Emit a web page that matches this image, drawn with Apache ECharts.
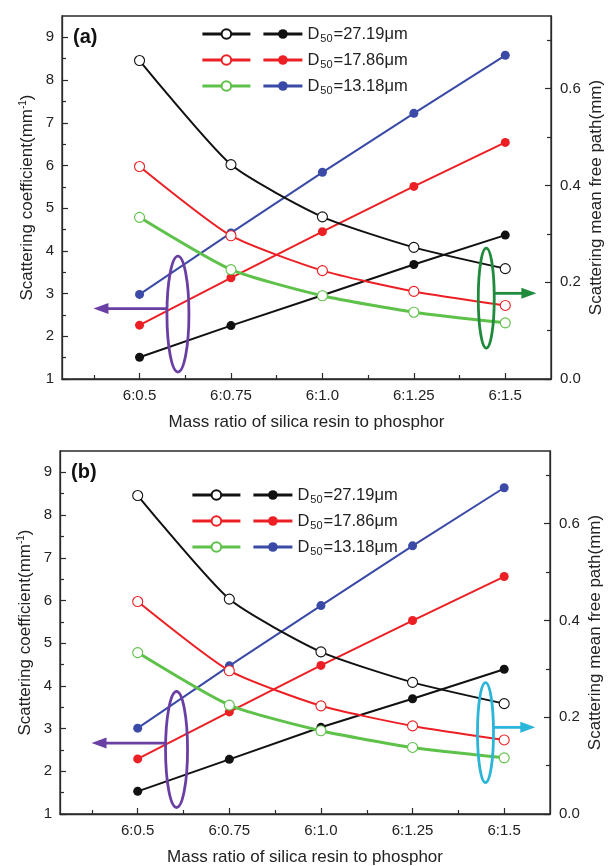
<!DOCTYPE html>
<html>
<head>
<meta charset="utf-8">
<script src="https://cdn.jsdelivr.net/npm/echarts@6/dist/echarts.min.js"></script>
<style>
html,body{margin:0;padding:0;background:#fff;}
#chart{width:608px;height:866px;}
</style>
</head>
<body>
<div id="chart"></div>
<script>
// ---------- data ----------
const ratios = [0.5, 0.75, 1.0, 1.25, 1.5];
const ratioLabels = ['6:0.5', '6:0.75', '6:1.0', '6:1.25', '6:1.5'];
const sizes = ['27.19', '17.86', '13.18'];
const leftTicks = [1, 2, 3, 4, 5, 6, 7, 8, 9];
const leftMinor = [1.5, 2.5, 3.5, 4.5, 5.5, 6.5, 7.5, 8.5];
const rightTicks = [0, 0.2, 0.4, 0.6];
const rightMinor = [0.1, 0.3, 0.5, 0.7];
const xMinor = [0.375, 0.625, 0.875, 1.125, 1.375];

// panel (a): scattering coefficient (mm^-1), left axis
const a_sc_27 = [1.51, 2.25, 2.96, 3.68, 4.37];
const a_sc_17 = [2.26, 3.37, 4.45, 5.51, 6.54];
const a_sc_13 = [2.98, 4.42, 5.84, 7.22, 8.58];
// panel (a): scattering mean free path (mm), right axis
const a_mfp_27 = [0.658, 0.443, 0.335, 0.272, 0.228];
const a_mfp_17 = [0.439, 0.296, 0.224, 0.181, 0.152];
const a_mfp_13 = [0.334, 0.226, 0.172, 0.138, 0.116];

// panel (b)
const b_sc_27 = [1.53, 2.28, 3.03, 3.70, 4.39];
const b_sc_17 = [2.29, 3.39, 4.48, 5.53, 6.56];
const b_sc_13 = [3.01, 4.47, 5.88, 7.28, 8.64];
const b_mfp_27 = [0.658, 0.444, 0.335, 0.272, 0.228];
const b_mfp_17 = [0.439, 0.296, 0.2235, 0.182, 0.153];
const b_mfp_13 = [0.3335, 0.225, 0.172, 0.1375, 0.116];

const panelLetters = ['(a)', '(b)'];
const xTitle = 'Mass ratio of silica resin to phosphor';

// ---------- style ----------
const FONT = '"Liberation Sans", Arial, sans-serif';
const C_BLACK = '#111111', C_RED = '#ec2024', C_GREEN = '#5ec149', C_BLUE = '#3a4aa6';
const AX = '#2a2a2a';

const panels = [
  { sc: [a_sc_27, a_sc_17, a_sc_13], mfp: [a_mfp_27, a_mfp_17, a_mfp_13],
    grid: { left: 62, top: 16, right: 57, height: 363 },
    leg1: { left: 201, top: 21 }, leg2: { left: 262, top: 21 },
    letter: { left: 68, top: 22 }, rightColor: '#1f8a3b' },
  { sc: [b_sc_27, b_sc_17, b_sc_13], mfp: [b_mfp_27, b_mfp_17, b_mfp_13],
    grid: { left: 60, top: 451, right: 58, height: 363 },
    leg1: { left: 191, top: 482 }, leg2: { left: 252, top: 482 },
    letter: { left: 66, top: 457 }, rightColor: '#2bb5d9' }
];

const scColors = [C_BLACK, C_RED, C_BLUE];
const mfpColors = [C_BLACK, C_RED, C_GREEN];

const grids = [], xAxes = [], yAxes = [], series = [], legends = [], titles = [];

panels.forEach((p, i) => {
  grids.push(Object.assign({ show: true, borderColor: AX, borderWidth: 1.3, backgroundColor: 'transparent',
    containLabel: false, outerBoundsMode: 'none' }, p.grid));
  titles.push({ text: panelLetters[i], left: p.letter.left, top: p.letter.top,
    textStyle: { fontFamily: FONT, fontSize: 20, fontWeight: 'bold', color: '#111' } });

  // x major
  xAxes.push({
    gridIndex: i, type: 'value', min: 0.288, max: 1.625,
    axisLine: { show: true, lineStyle: { color: AX, width: 1.3 } },
    axisTick: { show: true, inside: true, length: 6, customValues: ratios, lineStyle: { color: AX, width: 1.2 } },
    axisLabel: { customValues: ratios, fontFamily: FONT, fontSize: 15, color: '#222', margin: 9,
      formatter: v => { const k = ratios.findIndex(r => Math.abs(r - v) < 1e-6); return k >= 0 ? ratioLabels[k] : ''; } },
    splitLine: { show: false },
    name: xTitle, nameLocation: 'middle', nameGap: 35, nameMoveOverlap: false,
    nameTextStyle: { fontFamily: FONT, fontSize: 17, color: '#222' }
  });
  // x minor
  xAxes.push({
    gridIndex: i, type: 'value', min: 0.288, max: 1.625, position: 'bottom',
    axisLine: { show: false },
    axisTick: { show: true, inside: true, length: 4, customValues: xMinor, lineStyle: { color: AX, width: 1.2 } },
    axisLabel: { show: false }, splitLine: { show: false }
  });
  // y left major
  yAxes.push({
    gridIndex: i, type: 'value', position: 'left', min: 1, max: 9.5,
    axisLine: { show: true, lineStyle: { color: AX, width: 1.3 } },
    axisTick: { show: true, inside: true, length: 6, customValues: leftTicks, lineStyle: { color: AX, width: 1.2 } },
    axisLabel: { customValues: leftTicks, fontFamily: FONT, fontSize: 15, color: '#222', margin: 8 },
    splitLine: { show: false },
    name: 'Scattering coefficient(mm{sup|-1})', nameLocation: 'middle', nameGap: 26, nameMoveOverlap: false,
    nameTextStyle: { fontFamily: FONT, fontSize: 17, color: '#222',
      rich: { sup: { fontFamily: FONT, fontSize: 10, color: '#222', padding: [0, 0, 8, 0] } } }
  });
  // y left minor
  yAxes.push({
    gridIndex: i, type: 'value', position: 'left', min: 1, max: 9.5,
    axisLine: { show: false },
    axisTick: { show: true, inside: true, length: 4, customValues: leftMinor, lineStyle: { color: AX, width: 1.2 } },
    axisLabel: { show: false }, splitLine: { show: false }
  });
  // y right major
  yAxes.push({
    gridIndex: i, type: 'value', position: 'right', min: 0, max: 0.75,
    axisLine: { show: true, lineStyle: { color: AX, width: 1.3 } },
    axisTick: { show: true, inside: true, length: 6, customValues: rightTicks, lineStyle: { color: AX, width: 1.2 } },
    axisLabel: { customValues: rightTicks, fontFamily: FONT, fontSize: 15, color: '#222', margin: 9,
      formatter: v => v.toFixed(1) },
    splitLine: { show: false },
    name: 'Scattering mean free path(mm)', nameLocation: 'middle', nameGap: 37, nameRotate: 90, nameMoveOverlap: false,
    nameTextStyle: { fontFamily: FONT, fontSize: 17, color: '#222' }
  });
  // y right minor
  yAxes.push({
    gridIndex: i, type: 'value', position: 'right', min: 0, max: 0.75,
    axisLine: { show: false },
    axisTick: { show: true, inside: true, length: 4, customValues: rightMinor, lineStyle: { color: AX, width: 1.2 } },
    axisLabel: { show: false }, splitLine: { show: false }
  });

  const names1 = [], names2 = [];
  // open circles: mean free path (right axis)
  p.mfp.forEach((arr, k) => {
    const nm = panelLetters[i] + ' mfp ' + sizes[k];
    names1.push(nm);
    series.push({
      type: 'line', name: nm, xAxisIndex: 2 * i, yAxisIndex: 4 * i + 2,
      data: ratios.map((x, j) => [x, arr[j]]),
      smooth: 0.2, symbol: 'circle', symbolSize: 10, showAllSymbol: true,
      lineStyle: { color: mfpColors[k], width: k === 2 ? 3 : 2 },
      itemStyle: { color: '#ffffff', borderColor: mfpColors[k], borderWidth: 1.1, opacity: 1 },
      z: 3, animation: false
    });
  });
  // filled circles: scattering coefficient (left axis)
  p.sc.forEach((arr, k) => {
    const nm = panelLetters[i] + ' sc ' + sizes[k];
    names2.push(nm);
    series.push({
      type: 'line', name: nm, xAxisIndex: 2 * i, yAxisIndex: 4 * i,
      data: ratios.map((x, j) => [x, arr[j]]),
      symbol: 'circle', symbolSize: 9, showAllSymbol: true,
      lineStyle: { color: scColors[k], width: 2 },
      itemStyle: { color: scColors[k] },
      z: 2, animation: false
    });
  });

  const legBase = {
    orient: 'vertical', itemGap: 0, itemWidth: 48, itemHeight: 12, selectedMode: false, padding: 0,
    lineStyle: { width: 2.8 },
    textStyle: { fontFamily: FONT, fontSize: 16.5, color: '#222', lineHeight: 26,
      rich: { n: { fontFamily: FONT, fontSize: 16.5, color: '#222', lineHeight: 26 },
              s: { fontFamily: FONT, fontSize: 11, color: '#222', lineHeight: 26, padding: [9, 1, 0, 1] } } }
  };
  legends.push(Object.assign({}, legBase, { left: p.leg1.left, top: p.leg1.top, data: names1, formatter: () => ' ' }));
  legends.push(Object.assign({}, legBase, { left: p.leg2.left, top: p.leg2.top, itemWidth: 39, data: names2,
    formatter: nm => { const k = names2.indexOf(nm); return '{n|D}{s|50}{n|=' + sizes[k] + 'μm}'; } }));
});

const chart = echarts.init(document.getElementById('chart'), null, { renderer: 'canvas' });
chart.setOption({
  backgroundColor: '#ffffff',
  animation: false,
  title: titles,
  grid: grids,
  xAxis: xAxes,
  yAxis: yAxes,
  legend: legends,
  series: series
});

// ---------- annotations (ellipses + arrows), positioned in data coordinates ----------
const annotations = [
  { panel: 0, left: { c: [0.605, 2.52], arrowY: 2.65, tip: 0.374, color: '#6a3fa4' },
             right: { c: [1.448, 0.167], arrowY: 0.177, tip: 1.585 } },
  { panel: 1, left: { c: [0.606, 2.51], arrowY: 2.66, tip: 0.374, color: '#6a3fa4' },
             right: { c: [1.449, 0.168], arrowY: 0.179, tip: 1.585 } }
];
const graphics = [];
annotations.forEach(a => {
  const i = a.panel;
  const L = a.left, R = a.right;
  const rColor = panels[i].rightColor;
  const pl = (x, y) => chart.convertToPixel({ xAxisIndex: 2 * i, yAxisIndex: 4 * i }, [x, y]);
  const pr = (x, y) => chart.convertToPixel({ xAxisIndex: 2 * i, yAxisIndex: 4 * i + 2 }, [x, y]);
  // left ellipse + arrow
  const c1 = pl(L.c[0], L.c[1]);
  const rx1 = 11, ry1 = 58;
  graphics.push({ type: 'ellipse', shape: { cx: c1[0], cy: c1[1], rx: rx1, ry: ry1 },
    style: { fill: 'none', stroke: L.color, lineWidth: 2.8 }, z: 10 });
  const a1 = pl(L.tip, L.arrowY);
  graphics.push({ type: 'line', shape: { x1: c1[0] - rx1, y1: a1[1], x2: a1[0] + 12, y2: a1[1] },
    style: { stroke: L.color, lineWidth: 2.8 }, z: 10 });
  graphics.push({ type: 'polygon', shape: { points: [[a1[0], a1[1]], [a1[0] + 15, a1[1] - 5.5], [a1[0] + 15, a1[1] + 5.5]] },
    style: { fill: L.color }, z: 10 });
  // right ellipse + arrow
  const c2 = pr(R.c[0], R.c[1]);
  const rx2 = 8, ry2 = 50;
  graphics.push({ type: 'ellipse', shape: { cx: c2[0], cy: c2[1], rx: rx2, ry: ry2 },
    style: { fill: 'none', stroke: rColor, lineWidth: 2.8 }, z: 10 });
  const a2 = pr(R.tip, R.arrowY);
  graphics.push({ type: 'line', shape: { x1: c2[0] + rx2, y1: a2[1], x2: a2[0] - 12, y2: a2[1] },
    style: { stroke: rColor, lineWidth: 2.8 }, z: 10 });
  graphics.push({ type: 'polygon', shape: { points: [[a2[0], a2[1]], [a2[0] - 15, a2[1] - 5.5], [a2[0] - 15, a2[1] + 5.5]] },
    style: { fill: rColor }, z: 10 });
});
chart.setOption({ graphic: graphics });
</script>
</body>
</html>
